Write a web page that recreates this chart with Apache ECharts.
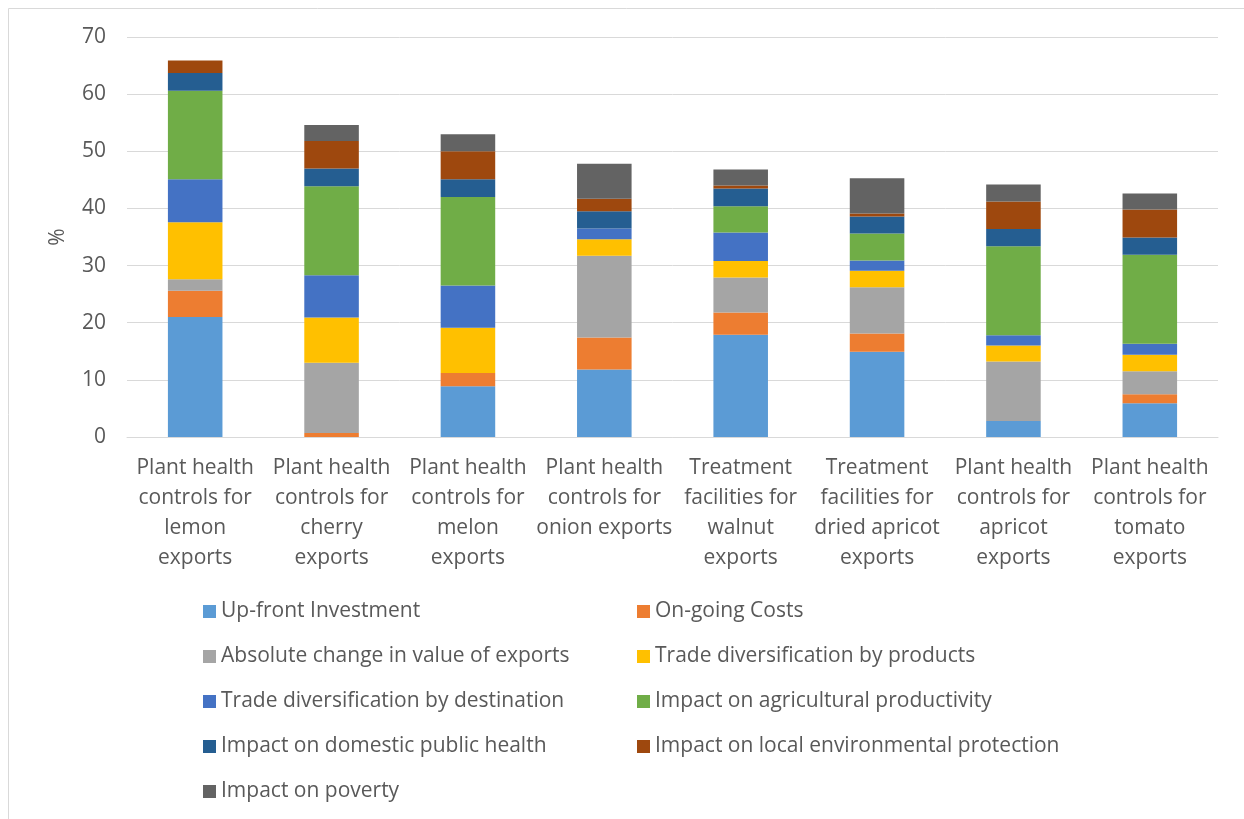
<!DOCTYPE html>
<html><head><meta charset="utf-8">
<script src="https://cdn.jsdelivr.net/npm/echarts@6/dist/echarts.min.js"></script>
<style>html,body{margin:0;padding:0;background:#fff}#c{width:1244px;height:819px}</style>
</head><body><div id="c"></div>
<script>
const categories = [
  "Plant health\ncontrols for\nlemon\nexports",
  "Plant health\ncontrols for\ncherry\nexports",
  "Plant health\ncontrols for\nmelon\nexports",
  "Plant health\ncontrols for\nonion exports",
  "Treatment\nfacilities for\nwalnut\nexports",
  "Treatment\nfacilities for\ndried apricot\nexports",
  "Plant health\ncontrols for\napricot\nexports",
  "Plant health\ncontrols for\ntomato\nexports"
];
const upfront      = [21.0, 0.0, 8.9, 11.8, 17.9, 14.9, 2.8, 5.9];
const ongoing      = [4.6, 0.7, 2.3, 5.6, 3.9, 3.2, 0.0, 1.6];
const absChange    = [2.0, 12.3, 0.0, 14.3, 6.1, 8.1, 10.4, 4.0];
const tradeProd    = [10.0, 7.9, 7.9, 2.9, 2.9, 2.9, 2.8, 2.9];
const tradeDest    = [7.5, 7.4, 7.4, 1.9, 5.0, 1.8, 1.8, 1.9];
const agriProd     = [15.5, 15.6, 15.5, 0.0, 4.6, 4.7, 15.6, 15.6];
const publicHealth = [3.1, 3.1, 3.1, 3.0, 3.1, 3.0, 3.0, 3.0];
const envProt      = [2.2, 4.8, 4.9, 2.2, 0.5, 0.5, 4.8, 4.9];
const poverty      = [0.0, 2.8, 3.0, 6.1, 2.8, 6.2, 3.0, 2.8];
const yTicks = [0, 10, 20, 30, 40, 50, 60, 70];

const seriesDefs = [
  ["Up-front Investment", upfront, "#5B9BD5"],
  ["On-going Costs", ongoing, "#ED7D31"],
  ["Absolute change in value of exports", absChange, "#A5A5A5"],
  ["Trade diversification by products", tradeProd, "#FFC000"],
  ["Trade diversification by destination", tradeDest, "#4472C4"],
  ["Impact on agricultural productivity", agriProd, "#70AD47"],
  ["Impact on domestic public health", publicHealth, "#255E91"],
  ["Impact on local environmental protection", envProt, "#9E480E"],
  ["Impact on poverty", poverty, "#636363"]
];
const FONT = "Open Sans";
const txt = {fontFamily: FONT, fontSize: 21, color: "#595959"};
const legendCommon = {
  orient: "vertical", itemWidth: 13, itemHeight: 13, itemGap: 25, icon: "rect",
  textStyle: Object.assign({}, txt, {lineHeight: 20}), selectedMode: false
};
const chart = echarts.init(document.getElementById("c"), null, {renderer: "canvas"});
chart.setOption({
  animation: false,
  color: seriesDefs.map(s => s[2]),
  graphic: [{type: "rect", shape: {x: 8.5, y: 8.5, width: 1250, height: 830}, style: {fill: "none", stroke: "#d9d9d9", lineWidth: 1}}],
  grid: {left: 127, right: 26, top: 37, bottom: 382},
  legend: [
    Object.assign({left: 198, top: 596, itemGap: 24, data: seriesDefs.filter((s, i) => i % 2 === 0).map(s => s[0])}, legendCommon, {itemGap: 24}),
    Object.assign({left: 632, top: 596, data: seriesDefs.filter((s, i) => i % 2 === 1).map(s => s[0])}, legendCommon, {itemGap: 24})
  ],
  xAxis: {
    type: "category", data: categories,
    axisLine: {lineStyle: {color: "#d9d9d9", width: 1}},
    axisTick: {show: false},
    axisLabel: Object.assign({}, txt, {interval: 0, lineHeight: 30, margin: 16})
  },
  yAxis: {
    type: "value", min: yTicks[0], max: yTicks[yTicks.length - 1], interval: 10,
    name: "%", nameLocation: "middle", nameGap: 58, nameRotate: 90,
    nameTextStyle: txt,
    axisLine: {show: false}, axisTick: {show: false},
    axisLabel: Object.assign({}, txt, {margin: 21}),
    splitLine: {lineStyle: {color: "#d9d9d9", width: 1}}
  },
  series: seriesDefs.map(s => ({
    name: s[0], type: "bar", stack: "total", data: s[1], barWidth: "40%",
    itemStyle: {color: s[2]}
  }))
});
</script></body></html>
